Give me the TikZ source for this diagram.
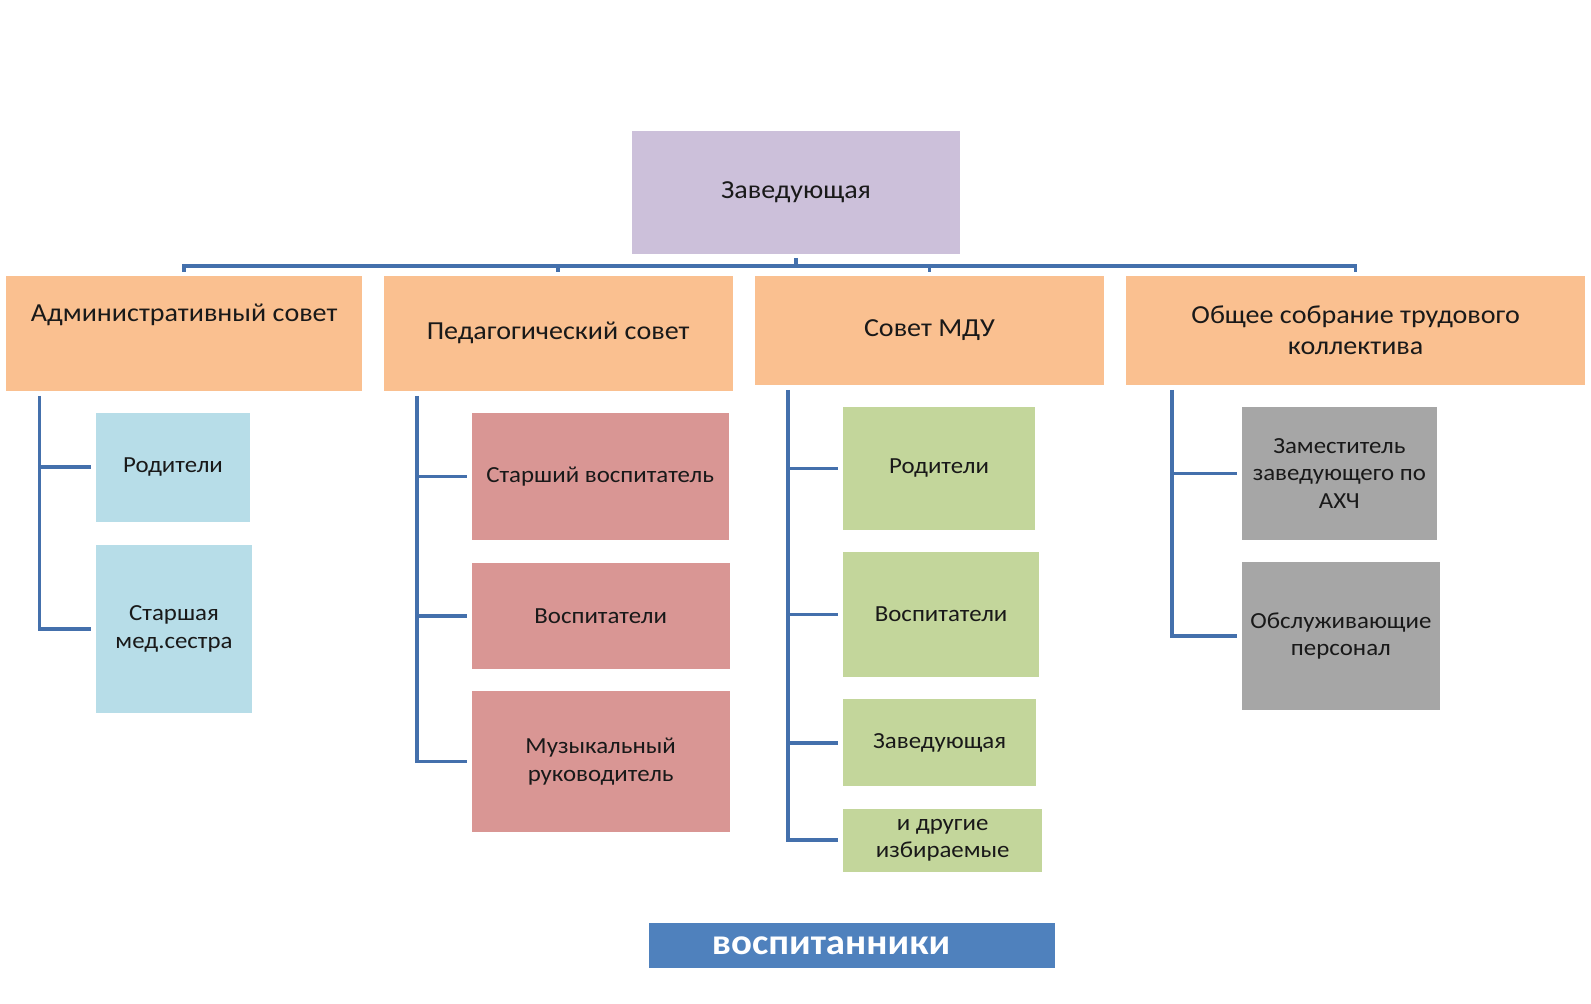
\documentclass[tikz,border=0pt]{standalone}
\usepackage{fontspec}
\setmainfont{Carlito}[FakeStretch=1.08]
\usetikzlibrary{calc}
\definecolor{lav}{HTML}{CCC0DA}
\definecolor{orng}{HTML}{FAC090}
\definecolor{lblue}{HTML}{B7DDE8}
\definecolor{rose}{HTML}{D99694}
\definecolor{lgreen}{HTML}{C3D69B}
\definecolor{gry}{HTML}{A6A6A6}
\definecolor{acc}{HTML}{4F81BD}
\definecolor{conncol}{HTML}{4470AC}
\tikzset{
  box/.style={rectangle, inner sep=0pt, align=center, text=black!90},
  head/.style={box, fill=orng, font=\fontsize{25.6}{31}\selectfont},
  sub/.style={box, font=\fontsize{22.7}{27}\selectfont},
  conn/.style={draw=conncol, line width=3.5pt},
}
\newcommand{\bx}[7]{% name style x1 y1 x2 y2 text
  \node[#2, minimum width={(#5)-(#3)}, minimum height={(#6)-(#4)}] (#1) at ({((#3)+(#5))/2},{((#4)+(#6))/2}) {#7};}
\begin{document}
\begin{tikzpicture}[x=1pt,y=-1pt]
\useasboundingbox (0,0) rectangle (1568,989);
% top
\bx{top}{box, fill=lav, font=\fontsize{25.6}{31}\selectfont}{623}{129}{946}{250}{Заведующая}
% heads
\bx{c1}{head}{6}{272}{357}{385}{Административный совет\\[0pt]\strut}
\bx{c2}{head}{378}{272}{722}{385}{Педагогический совет}
\bx{c3}{head}{744}{272}{1088}{379}{Совет МДУ}
\bx{c4}{head}{1110}{272}{1562}{379}{Общее собрание трудового\\коллектива}
% column 1
\bx{a1}{sub, fill=lblue}{95}{407}{246}{514}{Родители}
\bx{a2}{sub, fill=lblue}{95}{537}{248}{703}{Старшая\\мед.сестра}
% column 2
\bx{b1}{sub, fill=rose}{465}{407}{718}{532}{Старший воспитатель}
\bx{b2}{sub, fill=rose}{465}{555}{719}{659}{Воспитатели}
\bx{b3}{sub, fill=rose}{465}{681}{719}{820}{Музыкальный\\руководитель}
% column 3
\bx{d1}{sub, fill=lgreen}{831}{401}{1020}{522}{Родители}
\bx{d2}{sub, fill=lgreen}{831}{544}{1024}{667}{Воспитатели}
\bx{d3}{sub, fill=lgreen}{831}{689}{1021}{775}{Заведующая}
\bx{d4}{sub, fill=lgreen}{831}{797}{1027}{859}{и другие\\избираемые}
% column 4
\bx{e1}{sub, fill=gry}{1224}{401}{1416}{532}{Заместитель\\заведующего по\\АХЧ}
\bx{e2}{sub, fill=gry}{1224}{554}{1419}{700}{Обслуживающие\\персонал}
% bottom
\bx{pupils}{box, fill=acc, text=white, font=\fontsize{35.5}{40}\selectfont\bfseries}{640}{910}{1040}{954}{\hspace*{-42pt}воспитанники}

% bus
\coordinate (bus) at (784,262);
\draw[conn] ([yshift=-4pt]top.south) -- (top.south |- bus);
\draw[conn] ([yshift=4pt]c1.north) -- (c1.north |- bus) -- (c4.north |- bus) -- ([yshift=4pt]c4.north);
\draw[conn] ([yshift=4pt]c2.north) -- (c2.north |- bus);
\draw[conn] ([yshift=4pt]c3.north) -- (c3.north |- bus);

% column trunks
\coordinate (v1) at ($(c1.south west)+(33,5)$);
\coordinate (v2) at ($(c2.south west)+(33,5)$);
\coordinate (v3) at ($(c3.south west)+(33,5)$);
\coordinate (v4) at ($(c4.south west)+(45,5)$);
\draw[conn] (v1) |- ([xshift=-5pt]a2.west);
\draw[conn] (v1 |- a1.west) -- ([xshift=-5pt]a1.west);
\draw[conn] (v2) |- ([xshift=-5pt]b3.west);
\draw[conn] (v2 |- b1.west) -- ([xshift=-5pt]b1.west);
\draw[conn] (v2 |- b2.west) -- ([xshift=-5pt]b2.west);
\draw[conn] (v3) |- ([xshift=-5pt]d4.west);
\draw[conn] (v3 |- d1.west) -- ([xshift=-5pt]d1.west);
\draw[conn] (v3 |- d2.west) -- ([xshift=-5pt]d2.west);
\draw[conn] (v3 |- d3.west) -- ([xshift=-5pt]d3.west);
\draw[conn] (v4) |- ([xshift=-5pt]e2.west);
\draw[conn] (v4 |- e1.west) -- ([xshift=-5pt]e1.west);
\end{tikzpicture}
\end{document}
